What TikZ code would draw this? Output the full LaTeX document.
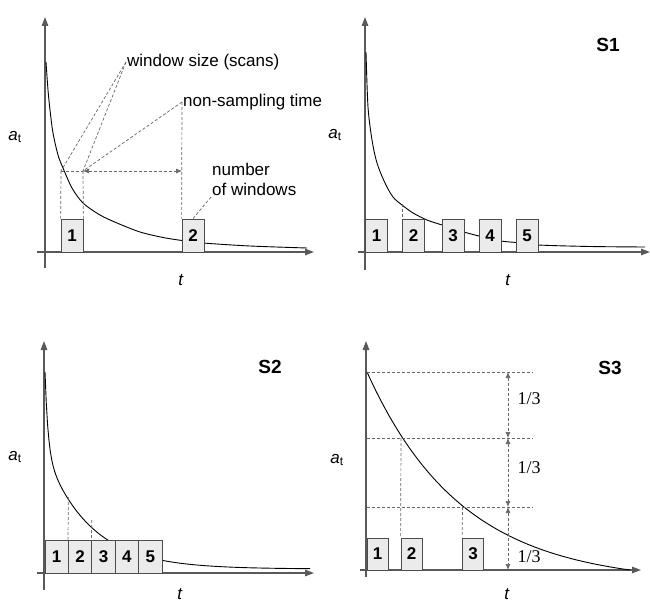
\documentclass[tikz,border=0pt]{standalone}
\usepackage{fontspec}
\setmainfont{Liberation Sans}
\newfontfamily\fracfont{Liberation Serif}
\usetikzlibrary{arrows.meta}

\begin{document}
\begin{tikzpicture}[x=1pt, y=-1pt, every node/.style={font=\fontsize{17}{20}\selectfont, inner sep=1pt}, >={Latex[length=6pt,width=5pt]},
	axis/.style={draw=black!65, line width=1.3pt, -{Triangle[length=9pt,width=6.5pt]}},
	curve/.style={line width=0.9pt},
	guide/.style={draw=black!60, line width=0.7pt, dash pattern=on 3pt off 2pt},
	win/.style={draw=black!70, fill=black!8, line width=0.8pt, minimum width=22pt, minimum height=33pt, inner sep=0pt, font=\fontsize{17}{20}\selectfont\bfseries},
	tag/.style={font=\fontsize{19}{22}\selectfont\bfseries},
	third/.style={font=\fontsize{18}{20}\selectfont\fracfont}]
	\useasboundingbox (0,0) rectangle (650,604);

	% top left: explanation
	\draw[axis] (45,268) -- (45,17);
	\draw[axis] (37,252) -- (314,252);
	\draw[curve] plot[smooth] coordinates {(46,62) (48,90) (50,110) (53,133) (58,155) (63,168) (72,188) (83,203) (100,215) (117,223) (140,232) (163,237.5) (182,240.5) (203,243) (250,246) (307,248)};
	\node[win] (B1) at (72,235.5) {1};
	\node[win] (B2) at (193,235.5) {2};
	\coordinate (w1a) at (61,171);
	\coordinate (w1b) at (83,171);
	\coordinate (n1) at (182,171);
	\coordinate (ws) at (126,62);
	\coordinate (ns) at (182,102);
	\coordinate (nw) at (211,197);
	\node[anchor=west] (wsl) at (ws) {window size (scans)};
	\node[anchor=west] (nsl) at (ns) {non-sampling time};
	\node[anchor=north west, align=left] (nwl) at (211,162) {number\\of windows};
	\draw[guide] (ws) -- (w1a);
	\draw[guide] (ws) -- (w1b);
	\draw[guide] (ns) -- (w1b);
	\draw[guide] (ns) -- (B2.north west);
	\draw[guide] (w1a) -- (w1b);
	\draw[guide, <->] (w1b) -- (n1);
	\draw[guide] (w1a) -- (B1.north west);
	\draw[guide] (w1b) -- (B1.north east);
	\draw[guide] (nw) -- (B2.north);
	\node (at1) at (15,137) {\textit{a}\textsubscript{t}};
	\node (t1) at (181,280) {\textit{t}};

	% top right: S1
	\draw[axis] (365,270) -- (365,17);
	\draw[axis] (358,252) -- (650,252);
	\draw[curve] plot[smooth] coordinates {(366,52) (368,107) (372,140) (377,163) (385,183) (393,197) (402,205) (413,213) (427,220) (442,225) (464,232) (479,236) (501,241) (516,242.5) (538,245) (590,246.5) (645,247)};
	\coordinate (c2) at (402.5,204);
	\draw[guide] (c2) -- (402.5,219);
	\node[win] (C1) at (376.5,235.5) {1};
	\node[win] (C2) at (413.5,235.5) {2};
	\node[win] (C3) at (453,235.5) {3};
	\node[win] (C4) at (490,235.5) {4};
	\node[win] (C5) at (527,235.5) {5};
	\node[tag] (S1) at (608,45) {S1};
	\node (at2) at (335,135) {\textit{a}\textsubscript{t}};
	\node (t2) at (508,280) {\textit{t}};

	% bottom left: S2
	\draw[axis] (44,590) -- (44,341);
	\draw[axis] (37,573) -- (314,573);
	\draw[curve] plot[domain=0:265, samples=200] ({45+\x},{569-80*exp(-\x/3)-117*exp(-\x/45)});
	\coordinate (d2) at (68.4,497);
	\coordinate (d3) at (91.8,520);
	\node[win, minimum width=23.4pt] (D1) at (56.7,556.5) {1};
	\node[win, minimum width=23.4pt] (D2) at (80.1,556.5) {2};
	\node[win, minimum width=23.4pt] (D3) at (103.5,556.5) {3};
	\node[win, minimum width=23.4pt] (D4) at (126.9,556.5) {4};
	\node[win, minimum width=23.4pt] (D5) at (150.3,556.5) {5};
	\draw[guide] (d2) -- (D2.north west);
	\draw[guide] (d3) -- (D3.north west);
	\node[tag] (S2) at (270,367) {S2};
	\node (at3) at (15,457) {\textit{a}\textsubscript{t}};
	\node (t3) at (180,594) {\textit{t}};

	% bottom right: S3
	\draw[axis] (366,577) -- (366,341);
	\draw[axis] (360,570) -- (641,570);
	\draw[curve] plot[domain=0:263, samples=90] ({367+\x},{570-198*(exp(-0.0105*\x)-0.0632)/0.9368});
	\coordinate (l0) at (367,372);
	\coordinate (l1) at (367,438);
	\coordinate (l2) at (367,507);
	\coordinate (r0) at (533,372);
	\coordinate (r1) at (533,438);
	\coordinate (r2) at (533,507);
	\coordinate (a0) at (508,372);
	\coordinate (a1) at (508,438);
	\coordinate (a2) at (508,507);
	\coordinate (a3) at (508,570);
	\coordinate (p2) at (401,438);
	\coordinate (p3) at (462.5,507);
	\draw[guide] (l0) -- (r0);
	\draw[guide] (l1) -- (r1);
	\draw[guide] (l2) -- (r2);
	\draw[guide, <->] (a0) -- (a1);
	\draw[guide, <->] (a1) -- (a2);
	\draw[guide, <->] (a2) -- (a3);
	\node[win, minimum width=21pt, minimum height=32pt] (E1) at (377.5,554) {1};
	\node[win, minimum width=21pt, minimum height=32pt] (E2) at (411.5,554) {2};
	\node[win, minimum width=21pt, minimum height=32pt] (E3) at (473,554) {3};
	\draw[guide] (p2) -- (E2.north west);
	\draw[guide] (p3) -- (E3.north west);
	\node[third] (f1) at (529,399) {1/3};
	\node[third] (f2) at (529,468) {1/3};
	\node[third] (f3) at (529,557) {1/3};
	\node[tag] (S3) at (610,368) {S3};
	\node (at4) at (337,460) {\textit{a}\textsubscript{t}};
	\node (t4) at (507,594) {\textit{t}};
\end{tikzpicture}
\end{document}
